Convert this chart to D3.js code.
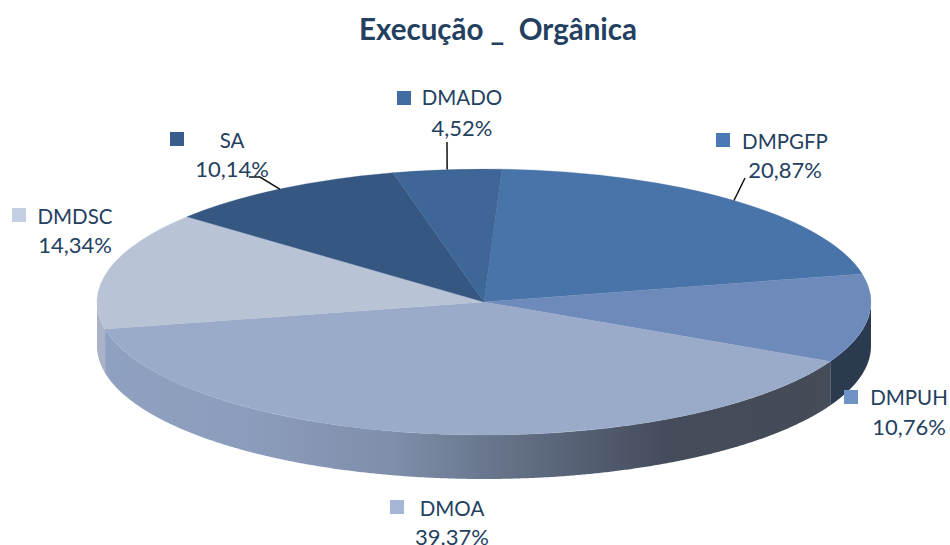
<!DOCTYPE html>
<html>
<head>
<meta charset="utf-8">
<script src="https://cdn.jsdelivr.net/npm/d3@7"></script>
<style>
  html, body { margin: 0; padding: 0; background: #fff; }
  text { font-family: Lato, "Open Sans", sans-serif; fill: #24405f; }
</style>
</head>
<body>
<div id="chart"></div>
<script>
// chart values, clockwise from the DMADO / DMPGFP boundary
const categories = ["DMPGFP", "DMPUH", "DMOA", "DMDSC", "SA", "DMADO"];
const shares = [20.87, 10.76, 39.37, 14.34, 10.14, 4.52];
const shareLabels = ["20,87%", "10,76%", "39.37%", "14,34%", "10,14%", "4,52%"];

const topColors = ["#4874aa", "#6d8abb", "#9aabc9", "#b8c3d6", "#355782", "#3e6696"];
const keyColors = ["#4a79b5", "#7093c6", "#a5b6d6", "#c3cee2", "#385d8a", "#426da2"];

// where each label sits: [key x, key y, text centre x, name baseline, share baseline]
// the DMOA share sits right on the bottom edge, same as the reference
const labelLayout = [
  [716, 133, 785, 149, 178],
  [844, 390, 909, 405, 435],
  [390, 500, 452, 516, 545],
  [12, 208, 75, 224, 253],
  [170, 132, 232, 148, 177],
  [397, 91, 462, 105, 136]
];
// leader lines end near the label, [] means the slice has none
const leaderEnds = [
  [[745, 178]],
  [],
  [],
  [],
  [[260, 177], [249, 177]],
  [[447, 142]]
];

const width = 950, height = 545;
const cx = 484, cy = 302, rx = 387, ry = 133, depth = 44;
const startAngle = 2.67 * Math.PI / 180;

const svg = d3.select("#chart")
  .append("svg")
  .attr("width", width)
  .attr("height", height)
  .style("display", "block");

const pie = d3.pie()
  .sort(null)
  .startAngle(startAngle)
  .endAngle(startAngle + 2 * Math.PI);
const slices = pie(shares);

// angle goes clockwise from 12 o'clock, same as d3.arc
const px = a => cx + rx * Math.sin(a);
const py = a => cy - ry * Math.cos(a);

const defs = svg.append("defs");
const wallGradient = defs.append("linearGradient")
  .attr("id", "wall-dmoa")
  .attr("gradientUnits", "userSpaceOnUse")
  .attr("x1", 104).attr("x2", 830)
  .attr("y1", 0).attr("y2", 0);
[[0, "#8fa1c0"], [0.2, "#8c9cbc"], [0.4, "#7f8ea9"], [0.52, "#6a788f"],
 [0.68, "#525c6f"], [0.78, "#444c5b"], [1, "#454b57"]].forEach(s => {
  wallGradient.append("stop").attr("offset", s[0]).attr("stop-color", s[1]);
});

// side walls, only the front half of the disc shows
const wall = d3.area()
  .x(a => px(a))
  .y0(a => py(a))
  .y1(a => py(a) + depth);

const wallFill = ["none", "#2c3a50", "url(#wall-dmoa)", "#a9b2c6", "none", "none"];

slices.forEach((d, i) => {
  const from = Math.max(d.startAngle, Math.PI / 2);
  const to = Math.min(d.endAngle, 3 * Math.PI / 2);
  if (from >= to) return;
  svg.append("path")
    .attr("d", wall(d3.range(from, to, 0.005).concat([to])))
    .attr("fill", wallFill[i]);
});

// top face: a flat d3.arc squashed into an ellipse
const arc = d3.arc().innerRadius(0).outerRadius(rx);
svg.append("g")
  .attr("transform", `translate(${cx},${cy}) scale(1,${ry / rx})`)
  .selectAll("path")
  .data(slices)
  .join("path")
  .attr("d", arc)
  .attr("fill", (d, i) => topColors[i])
  .attr("stroke", (d, i) => topColors[i])
  .attr("stroke-width", 0.5);

// leader lines, from the middle of the slice edge out to the label
const leader = d3.line();
slices.forEach((d, i) => {
  if (!leaderEnds[i].length) return;
  const mid = (d.startAngle + d.endAngle) / 2;
  svg.append("path")
    .attr("d", leader([[px(mid), py(mid)]].concat(leaderEnds[i])))
    .attr("fill", "none")
    .attr("stroke", "#111")
    .attr("stroke-width", 1.5);
});

// legend keys and labels
const labels = svg.append("g")
  .selectAll("g")
  .data(categories)
  .join("g");

labels.append("rect")
  .attr("x", (d, i) => labelLayout[i][0])
  .attr("y", (d, i) => labelLayout[i][1])
  .attr("width", 14)
  .attr("height", 14)
  .attr("fill", (d, i) => keyColors[i]);

labels.append("text")
  .attr("x", (d, i) => labelLayout[i][2])
  .attr("y", (d, i) => labelLayout[i][3])
  .attr("text-anchor", "middle")
  .style("font-size", "20.5px")
  .text(d => d);

labels.append("text")
  .attr("x", (d, i) => labelLayout[i][2])
  .attr("y", (d, i) => labelLayout[i][4])
  .attr("text-anchor", "middle")
  .style("font-size", "22px")
  .text((d, i) => shareLabels[i]);

svg.append("text")
  .attr("x", 498)
  .attr("y", 40)
  .attr("text-anchor", "middle")
  .style("font-size", "29.5px")
  .style("font-weight", "700")
  .style("white-space", "pre")
  .attr("xml:space", "preserve")
  .text("Execução _  Orgânica");
</script>
</body>
</html>
